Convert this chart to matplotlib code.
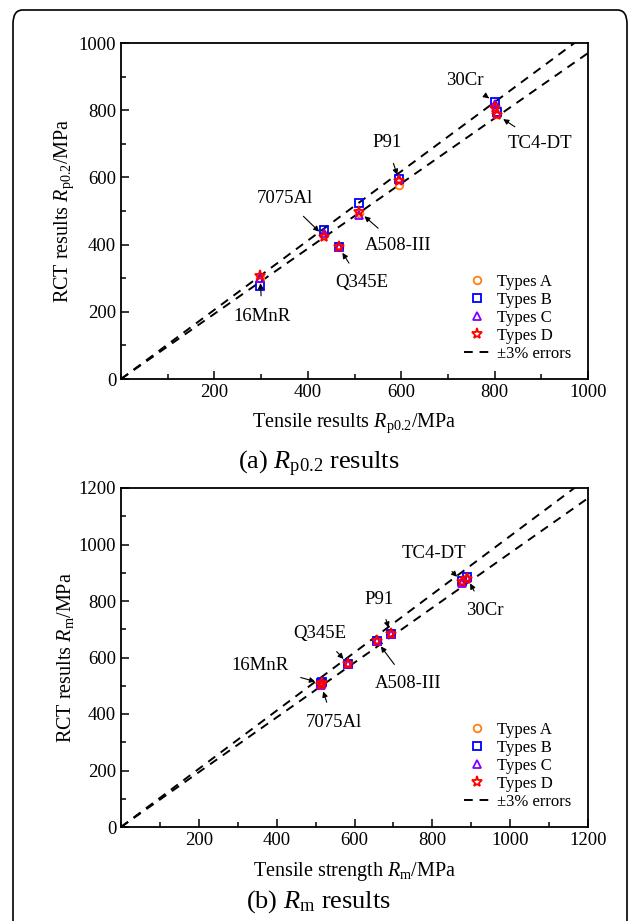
import matplotlib
matplotlib.use('Agg')
import matplotlib.pyplot as plt
from matplotlib.patches import FancyBboxPatch
from matplotlib.ticker import MultipleLocator
from matplotlib.lines import Line2D

plt.rcParams['font.family'] = ['Liberation Serif', 'DejaVu Serif']
plt.rcParams['mathtext.fontset'] = 'custom'
plt.rcParams['mathtext.rm'] = 'Liberation Serif'
plt.rcParams['mathtext.it'] = 'Liberation Serif:italic'

# (a) Rp0.2: tensile value and RCT results for types A-D
mat_a = ['16MnR', '7075Al', 'Q345E', 'A508-III', 'P91', '30Cr', 'TC4-DT']
tens_a = [298, 435, 466, 510, 596, 800, 806]
rct_a = {
    'A': [300, 430, 392, 495, 578, 812, 790],
    'B': [277, 443, 394, 523, 595, 823, 796],
    'C': [302, 436, 393, 488, 594, 818, 792],
    'D': [306, 424, 393, 498, 588, 806, 785],
}

# (b) Rm
mat_b = ['16MnR', '7075Al', 'Q345E', 'A508-III', 'P91', 'TC4-DT', '30Cr']
tens_b = [516, 514, 584, 657, 693, 876, 889]
rct_b = {
    'A': [510, 505, 578, 662, 686, 866, 880],
    'B': [512, 508, 577, 659, 682, 870, 884],
    'C': [509, 504, 576, 660, 684, 865, 882],
    'D': [508, 503, 577, 659, 682, 868, 878],
}

# label text position (data coords) for each material
lab_a = {'16MnR': (302, 185), '7075Al': (351, 538), 'Q345E': (515, 287),
         'A508-III': (594, 396), 'P91': (569, 703), '30Cr': (737, 888),
         'TC4-DT': (897, 701)}
lab_b = {'16MnR': (357, 570), '7075Al': (546, 369), 'Q345E': (510, 686),
         'A508-III': (739, 508), 'P91': (664, 807), 'TC4-DT': (805, 969),
         '30Cr': (934, 765)}

styles = {
    'A': dict(marker='o', color='#ff7f0e', ms=5.5),
    'B': dict(marker='s', color='#0000ff', ms=5.5),
    'C': dict(marker='^', color='#8000ff', ms=6),
    'D': dict(marker='*', color='#ff0000', ms=8),
}

fig = plt.figure(figsize=(6.37, 9.21), dpi=100)
W, H = 637, 921

# outer rounded frame
fig.patches.append(FancyBboxPatch((13 / W, -0.05), 614 / W, 1.05 - 10 / H,
                                  boxstyle='round,pad=0,rounding_size=0.015',
                                  transform=fig.transFigure, fill=False,
                                  edgecolor='black', linewidth=1.2))

dash = (0, (4.5, 3.5))


def make_panel(rect, tens, rct, mats, labs, vmax, caption, xlab, ylab, cap_y):
    ax = fig.add_axes(rect)
    xs = [0, vmax]
    ax.plot(xs, [1.03 * v for v in xs], ls=dash, color='black', lw=1.4)
    ax.plot(xs, [0.97 * v for v in xs], ls=dash, color='black', lw=1.4)
    for key in ['A', 'B', 'C', 'D']:
        st = styles[key]
        ax.plot(tens, rct[key], ls='none', marker=st['marker'],
                mfc='none', mec=st['color'], mew=1.3,
                ms=st['ms'], label='Types ' + key)
    for i, m in enumerate(mats):
        tx, ty = labs[m]
        py = rct['B'][i] if m == '30Cr' else rct['D'][i]
        ax.annotate(m, xy=(tens[i], py), xytext=(tx, ty), ha='center', va='center',
                    fontsize=13.5,
                    arrowprops=dict(arrowstyle='-|>', color='black', lw=0.8,
                                    mutation_scale=8, shrinkA=7, shrinkB=5))
    ax.set_xlim(0, vmax)
    ax.set_ylim(0, vmax)
    ax.yaxis.set_major_locator(MultipleLocator(200))
    ax.xaxis.set_minor_locator(MultipleLocator(100))
    ax.yaxis.set_minor_locator(MultipleLocator(100))
    ax.set_xticks(list(range(200, vmax + 1, 200)))
    ax.tick_params(which='both', direction='in', top=False, right=False, labelsize=13.5)
    ax.tick_params(which='major', length=6, width=1.1)
    ax.tick_params(which='minor', length=3.5, width=1.1)
    for sp in ax.spines.values():
        sp.set_linewidth(1.3)
    ax.set_xlabel(xlab, fontsize=14.5, labelpad=8)
    ax.set_ylabel(ylab, fontsize=14.5, labelpad=2)
    handles, labels = ax.get_legend_handles_labels()
    handles.append(Line2D([], [], ls=dash, color='black', lw=1.4))
    labels.append('±3% errors')
    ax.legend(handles, labels, loc='lower right', frameon=False, fontsize=12,
              handlelength=1.6, handletextpad=0.4, labelspacing=0.12,
              borderaxespad=0.6)
    fig.text(0.5, cap_y, caption, ha='center', va='center', fontsize=19)
    return ax


make_panel([121 / W, 1 - 379 / H, 467 / W, 336 / H], tens_a, rct_a, mat_a, lab_a,
           1000, r'(a) $R_{\mathrm{p0.2}}$ results',
           r'Tensile results $R_{\mathrm{p0.2}}$/MPa',
           r'RCT results $R_{\mathrm{p0.2}}$/MPa', 1 - 464 / H)
make_panel([121 / W, 1 - 827 / H, 467 / W, 339 / H], tens_b, rct_b, mat_b, lab_b,
           1200, r'(b) $R_{\mathrm{m}}$ results',
           r'Tensile strength $R_{\mathrm{m}}$/MPa',
           r'RCT results $R_{\mathrm{m}}$/MPa', 1 - 902 / H)

fig.savefig('out.png', dpi=100)
